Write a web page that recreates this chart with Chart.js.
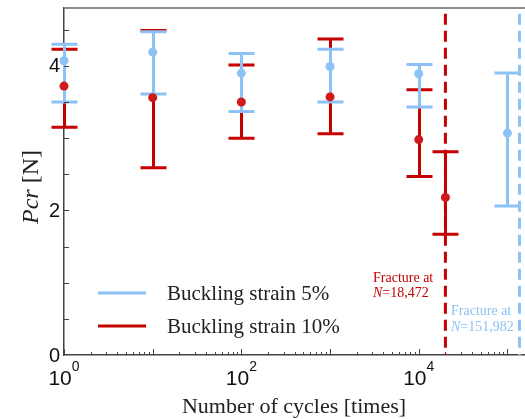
<!DOCTYPE html>
<html>
<head>
<meta charset="utf-8">
<script src="https://cdn.jsdelivr.net/npm/chart.js@4/dist/chart.umd.min.js"></script>
<style>
  html, body { margin: 0; padding: 0; background: #fff; overflow: hidden; }
  #frame { width: 525px; height: 419px; overflow: hidden; }
</style>
</head>
<body>
<div id="frame"><canvas id="cycleChart" width="530" height="419"></canvas></div>
<script>
// data
const blueCycles = [1, 10, 100, 1000, 10000, 100000];
const blueMean = [4.07, 4.19, 3.90, 3.99, 3.89, 3.07];
const blueHigh = [4.30, 4.47, 4.17, 4.23, 4.02, 3.90];
const blueLow = [3.50, 3.61, 3.37, 3.50, 3.43, 2.06];

const redCycles = [1, 10, 100, 1000, 10000, 20000];
const redMean = [3.72, 3.56, 3.50, 3.57, 2.98, 2.18];
const redHigh = [4.23, 4.49, 4.01, 4.37, 3.67, 2.81];
const redLow = [3.15, 2.59, 3.00, 3.06, 2.47, 1.67];

// fracture markers (position on axis, label text)
const redFracture = 20000;
const blueFracture = 137000;
const redFractureLabel = "=18,472";
const blueFractureLabel = "=151,982";

const xTickExponents = [0, 2, 4];
const yTickLabels = [0, 2, 4];
const legendLabels = ["Buckling strain 5%", "Buckling strain 10%"];

const BLUE = "#8cc2f5";
const RED = "#c40000";
const SANS = '"Liberation Sans", Arial, sans-serif';
const SERIF = '"Liberation Serif", "Times New Roman", serif';

// Error bars --------------------------------------- { bars }
function drawBars(chart, xs, lo, hi, color) {
  const ctx = chart.ctx;
  const sx = chart.scales.x, sy = chart.scales.y;
  ctx.save();
  ctx.strokeStyle = color;
  ctx.lineWidth = 3;
  xs.forEach((v, i) => {
    const px = Math.round(sx.getPixelForValue(v)) + 0.5;
    const top = sy.getPixelForValue(hi[i]);
    const bot = sy.getPixelForValue(lo[i]);
    ctx.beginPath();
    ctx.moveTo(px, top);
    ctx.lineTo(px, bot);
    ctx.moveTo(px - 13, top);
    ctx.lineTo(px + 13, top);
    ctx.moveTo(px - 13, bot);
    ctx.lineTo(px + 13, bot);
    ctx.stroke();
  });
  ctx.restore();
}

// mixed italic / upright text helper
function drawParts(ctx, parts, x, y) {
  parts.forEach((p) => {
    ctx.font = p.font;
    ctx.fillText(p.text, x, y);
    x += ctx.measureText(p.text).width;
  });
}

const decorations = {
  id: "decorations",
  beforeDatasetsDraw(chart) {
    drawBars(chart, redCycles, redLow, redHigh, RED);
    drawBars(chart, blueCycles, blueLow, blueHigh, BLUE);
  },
  afterDraw(chart) {
    const ctx = chart.ctx;
    const area = chart.chartArea;
    const sx = chart.scales.x, sy = chart.scales.y;
    ctx.save();

    // top frame line
    ctx.strokeStyle = "#666";
    ctx.lineWidth = 1.5;
    ctx.beginPath();
    ctx.moveTo(area.left, area.top);
    ctx.lineTo(area.right, area.top);
    ctx.stroke();

    // inward tick marks
    ctx.strokeStyle = "#444";
    ctx.lineWidth = 1;
    ctx.beginPath();
    for (let d = 0; d <= 5; d++) {
      for (let k = 1; k <= 9; k++) {
        const v = k * Math.pow(10, d);
        if (v > sx.max) break;
        const px = Math.round(sx.getPixelForValue(v)) + 0.5;
        const len = k === 1 ? 6 : 3;
        ctx.moveTo(px, area.bottom);
        ctx.lineTo(px, area.bottom - len);
      }
    }
    for (let v = 0.5; v < sy.max; v += 0.5) {
      const py = Math.round(sy.getPixelForValue(v)) + 0.5;
      ctx.moveTo(area.left, py);
      ctx.lineTo(area.left + 5, py);
    }
    ctx.stroke();

    // tick labels
    ctx.fillStyle = "#111";
    ctx.textBaseline = "alphabetic";
    xTickExponents.forEach((e) => {
      const px = sx.getPixelForValue(Math.pow(10, e));
      ctx.font = "21px " + SANS;
      const w1 = ctx.measureText("10").width;
      ctx.font = "14px " + SANS;
      const w2 = ctx.measureText(String(e)).width;
      const x0 = px - (w1 + w2) / 2;
      ctx.textAlign = "left";
      ctx.font = "21px " + SANS;
      ctx.fillText("10", x0, 385);
      ctx.font = "14px " + SANS;
      ctx.fillText(String(e), x0 + w1, 371);
    });
    ctx.font = "20px " + SANS;
    ctx.textAlign = "right";
    ctx.textBaseline = "middle";
    yTickLabels.forEach((v) => {
      ctx.fillText(String(v), area.left - 4, sy.getPixelForValue(v) + 1);
    });

    // axis titles
    ctx.fillStyle = "#222";
    ctx.textBaseline = "alphabetic";
    ctx.textAlign = "center";
    ctx.font = "22px " + SERIF;
    ctx.fillText("Number of cycles [times]", 294, 413);

    ctx.save();
    ctx.translate(38, 187);
    ctx.rotate(-Math.PI / 2);
    ctx.textAlign = "left";
    const yParts = [
      { text: "Pcr", font: "italic 24px " + SERIF },
      { text: " [N]", font: "24px " + SERIF },
    ];
    let tw = 0;
    yParts.forEach((p) => { ctx.font = p.font; tw += ctx.measureText(p.text).width; });
    drawParts(ctx, yParts, -tw / 2, 0);
    ctx.restore();

    // legend
    ctx.textAlign = "left";
    ctx.lineWidth = 3;
    [[BLUE, 293], [RED, 326]].forEach(([c, y], i) => {
      ctx.strokeStyle = c;
      ctx.beginPath();
      ctx.moveTo(98, y);
      ctx.lineTo(146, y);
      ctx.stroke();
      ctx.fillStyle = "#222";
      ctx.font = "21px " + SERIF;
      ctx.fillText(legendLabels[i], 167, y + 7);
    });

    // fracture notes
    ctx.fillStyle = RED;
    ctx.font = "14px " + SERIF;
    ctx.fillText("Fracture at", 373, 282);
    drawParts(ctx, [
      { text: "N", font: "italic 14px " + SERIF },
      { text: redFractureLabel, font: "14px " + SERIF },
    ], 373, 297);
    ctx.fillStyle = BLUE;
    ctx.font = "14px " + SERIF;
    ctx.fillText("Fracture at", 451, 315);
    drawParts(ctx, [
      { text: "N", font: "italic 14px " + SERIF },
      { text: blueFractureLabel, font: "14px " + SERIF },
    ], 451, 331);

    ctx.restore();
  },
};

const toPoints = (xs, ys) => xs.map((x, i) => ({ x: x, y: ys[i] }));

new Chart(document.getElementById("cycleChart"), {
  type: "scatter",
  data: {
    datasets: [
      {
        label: "Buckling strain 5%",
        data: toPoints(blueCycles, blueMean),
        backgroundColor: BLUE,
        borderColor: BLUE,
        pointRadius: 4.5,
        borderWidth: 0,
        clip: false,
        order: 1,
      },
      {
        label: "Buckling strain 10%",
        data: toPoints(redCycles, redMean),
        backgroundColor: "#d01a1a",
        borderColor: "#d01a1a",
        pointRadius: 4.5,
        borderWidth: 0,
        clip: false,
        order: 2,
      },
      {
        type: "line",
        data: [{ x: redFracture, y: 4.72 }, { x: redFracture, y: 0 }],
        borderColor: RED,
        borderWidth: 3,
        borderDash: [11, 6],
        pointRadius: 0,
        order: 3,
      },
      {
        type: "line",
        data: [{ x: blueFracture, y: 4.72 }, { x: blueFracture, y: 0 }],
        borderColor: BLUE,
        borderWidth: 3,
        borderDash: [11, 6],
        pointRadius: 0,
        order: 4,
      },
    ],
  },
  options: {
    responsive: false,
    animation: false,
    layout: { padding: { top: 8, right: 0, bottom: 0, left: 0 } },
    plugins: { legend: { display: false }, tooltip: { enabled: false } },
    scales: {
      x: {
        type: "logarithmic",
        min: 1,
        max: 160000,
        grid: { display: false },
        ticks: { display: false },
        border: { display: true, color: "#444", width: 1.5 },
        afterFit: (s) => { s.height = 64; },
      },
      y: {
        min: 0,
        max: 4.8,
        grid: { display: false },
        ticks: { display: false },
        border: { display: true, color: "#444", width: 1.5 },
        afterFit: (s) => { s.width = 64; },
      },
    },
  },
  plugins: [decorations],
});
</script>
</body>
</html>
